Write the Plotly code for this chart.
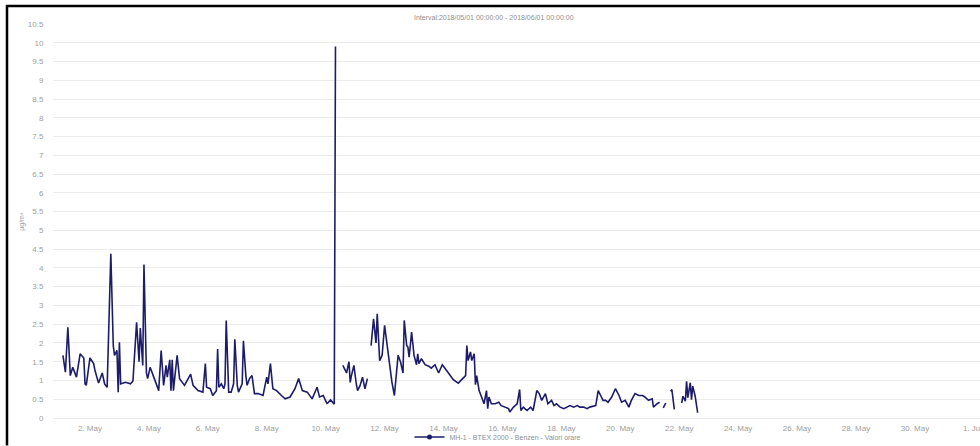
import pandas as pd
import plotly.graph_objects as go

# ---- data (hours since 2018-05-01 00:00, benzene µg/m³) ----
seg1_hours = [2,4,6,8,10,13,16,19,20,21,24,27,28,31,34,36,38,41,43,44,46,47,48,49,53,57,59,62,63,64,
              65,67,68,70,71,73,76,80,82,84,86,87,89,90,91,92,95,97,101,106,108,112,116,118,119,122,124,127,128,129,
              131,133,134,135,137,139,141,142,144,145,148,149,151,152,154,156,158,161,165,168,169,171,173,176,180,
              183,187,191,194,197,201,205,209,211,214,217,218,220,223,224]
seg1_vals = [1.67,1.22,2.42,1.13,1.35,1.09,1.71,1.6,0.91,0.87,1.6,1.45,1.28,0.93,1.2,0.9,0.82,4.38,1.93,1.67,
             1.8,0.69,2.02,0.91,0.95,0.91,0.98,2.55,2.02,1.5,2.4,1.4,4.09,1.2,1.05,1.35,1.09,0.73,1.8,0.87,
             1.4,1.09,1.55,0.73,1.55,0.73,1.67,1.05,0.87,1.17,0.87,0.73,0.69,1.45,0.82,0.78,0.6,0.73,1.84,0.82,
             0.91,0.78,0.91,2.6,0.69,0.69,0.91,2.1,0.87,0.69,0.91,2.06,1.13,0.87,1.05,1.13,0.65,0.65,0.6,1.09,
             0.91,1.45,0.78,0.73,0.6,0.51,0.56,0.78,1.05,0.73,0.69,0.51,0.82,0.56,0.6,0.39,0.41,0.48,0.37,9.9]

seg2_hours = [230,232,233,235,236,237,239,241,242,244,246,248,250]
seg2_vals = [1.4,1.25,1.2,1.5,0.95,1.13,1.4,0.9,0.73,0.86,1.09,0.78,1.05]

seg3_hours = [253,255,257,258,260,262,264,267,270,272,274,275,277,279,280,282,283,284,286,288,
              290,291,292,294,297,300,302,305,308,311,313,316,320,324,327,330,331,332,334,335,
              337,338,339,341,343,345,347,348,349,351,354,357,359,362,365,366,369,372,374,375,
              377,380,383,385,388,390,392,395,397,400,402,404,407,410,412,415,418,421,423,426,
              429,431,436,438,440,442,444,446,449,452,455,457,460,463,465,468,471,474,476,479,
              482,483,486,488]
seg3_vals = [1.93,2.64,2.0,2.78,1.53,1.67,2.47,1.67,0.95,0.6,1.31,1.67,1.49,1.2,2.6,1.93,1.89,1.62,2.29,1.67,
             1.42,1.71,1.45,1.58,1.42,1.38,1.33,1.42,1.2,1.42,1.33,1.2,1.02,0.93,1.02,1.13,1.93,1.53,1.76,1.53,
             1.71,0.89,1.13,0.73,0.56,0.38,0.73,0.25,0.56,0.38,0.38,0.42,0.33,0.29,0.25,0.16,0.29,0.38,0.76,0.2,
             0.29,0.2,0.29,0.2,0.73,0.65,0.47,0.65,0.38,0.47,0.33,0.38,0.29,0.25,0.29,0.33,0.29,0.33,0.29,0.29,
             0.25,0.29,0.33,0.73,0.6,0.47,0.47,0.42,0.56,0.78,0.6,0.42,0.47,0.29,0.47,0.65,0.6,0.6,0.56,0.47,
             0.51,0.29,0.38,0.42]

seg4_hours = [491,493]
seg4_vals = [0.27,0.4]

seg5_hours = [497,498,500]
seg5_vals = [0.71,0.76,0.23]

seg6_hours = [506,507,509,510,511,513,514,515,517,519]
seg6_vals = [0.4,0.58,0.45,0.98,0.54,0.94,0.49,0.85,0.58,0.14]

y_ticks = [i * 0.5 for i in range(22)]
y_tick_labels = ["0","0.5","1","1.5","2","2.5","3","3.5","4","4.5","5","5.5","6","6.5","7","7.5",
                 "8","8.5","9","9.5","10","10.5"]

series_name = "MH-1 - BTEX 2000 - Benzen - Valori orare"
title_text = "Interval:2018/05/01 00:00:00 - 2018/06/01 00:00:00"
y_title = "µg/m³"

# ---- build series with gaps ----
base = pd.Timestamp("2018-05-01 00:00:00")
segments = [(seg1_hours, seg1_vals), (seg2_hours, seg2_vals), (seg3_hours, seg3_vals),
            (seg4_hours, seg4_vals), (seg5_hours, seg5_vals), (seg6_hours, seg6_vals)]
xs, ys = [], []
for i, (h, v) in enumerate(segments):
    if i > 0:
        xs.append(base + pd.Timedelta(hours=h[0] - 0.5))
        ys.append(None)
    xs.extend(base + pd.Timedelta(hours=t) for t in h)
    ys.extend(v)

W, H = 980, 446
L, R, T, B = 53, 0, 24, 27.5
pw, ph = W - L - R, H - T - B

def px(x):
    return (x - L) / pw

def py(y):
    return (H - B - y) / ph

line_color = "#1c1c6a"
fig = go.Figure()
fig.add_trace(go.Scatter(
    x=xs, y=ys, mode="lines", name=series_name, connectgaps=False,
    line=dict(color=line_color, width=1.6),
    showlegend=False,
))
# legend entry (line + dot symbol)
fig.add_trace(go.Scatter(
    x=[None], y=[None], mode="lines+markers", name=series_name,
    line=dict(color=line_color, width=1.6),
    marker=dict(color=line_color, size=5, symbol="circle"),
    showlegend=True,
))

font_family = "Liberation Sans, Arial, sans-serif"
fig.update_layout(
    width=W, height=H,
    margin=dict(l=L, r=R, t=T, b=B, pad=0, autoexpand=False),
    paper_bgcolor="white", plot_bgcolor="white",
    font=dict(family=font_family, size=8, color="#a0a0a0"),
    showlegend=True,
    legend=dict(orientation="h", x=px(498), xanchor="center", y=py(437.5), yanchor="middle",
                font=dict(size=7, color="#909090"), bgcolor="rgba(0,0,0,0)",
                itemwidth=30, tracegroupgap=0),
    xaxis=dict(
        type="date", automargin=False,
        range=[base - pd.Timedelta(hours=6.1), base + pd.Timedelta(hours=749)],
        tick0="2018-05-02", dtick=2 * 86400000, tickformat="%-d. %b",
        showgrid=False, zeroline=False, showline=False,
        ticks="outside", ticklen=2, tickcolor="rgba(0,0,0,0)",
        ticklabeloverflow="allow",
        tickfont=dict(size=8, color="#a0a0a0"),
    ),
    yaxis=dict(
        automargin=False,
        range=[0, 10.5], tickmode="array", tickvals=y_ticks, ticktext=y_tick_labels,
        showgrid=True, gridcolor="#ececec", gridwidth=1,
        zeroline=True, zerolinecolor="#ececec", zerolinewidth=1, showline=False,
        ticks="outside", ticklen=7, tickcolor="rgba(0,0,0,0)",
        tickfont=dict(size=8, color="#a0a0a0"),
    ),
    annotations=[
        dict(text=title_text, xref="paper", yref="paper", x=px(494), y=py(17),
             xanchor="center", yanchor="middle", showarrow=False,
             font=dict(size=7, color="#909090")),
        dict(text=y_title, xref="paper", yref="paper", x=px(22), y=py(222),
             xanchor="center", yanchor="middle", showarrow=False, textangle=-90,
             font=dict(size=7, color="#a0a0a0")),
    ],
    shapes=[
        dict(type="line", xref="paper", yref="paper", x0=px(6), x1=px(980), y0=py(6), y1=py(6),
             line=dict(color="black", width=2.5)),
        dict(type="line", xref="paper", yref="paper", x0=px(7), x1=px(7), y0=py(5), y1=py(446),
             line=dict(color="black", width=2.5)),
    ],
)

page_css = ("var s=document.createElement('style');"
            "s.textContent='html,body{margin:0;padding:0;overflow:hidden;scrollbar-width:none;}"
            "::-webkit-scrollbar{display:none;width:0;height:0;}';"
            "document.head.appendChild(s);")

fig.write_html(
    "out.html",
    config={"displayModeBar": False},
    post_script=page_css,
)
